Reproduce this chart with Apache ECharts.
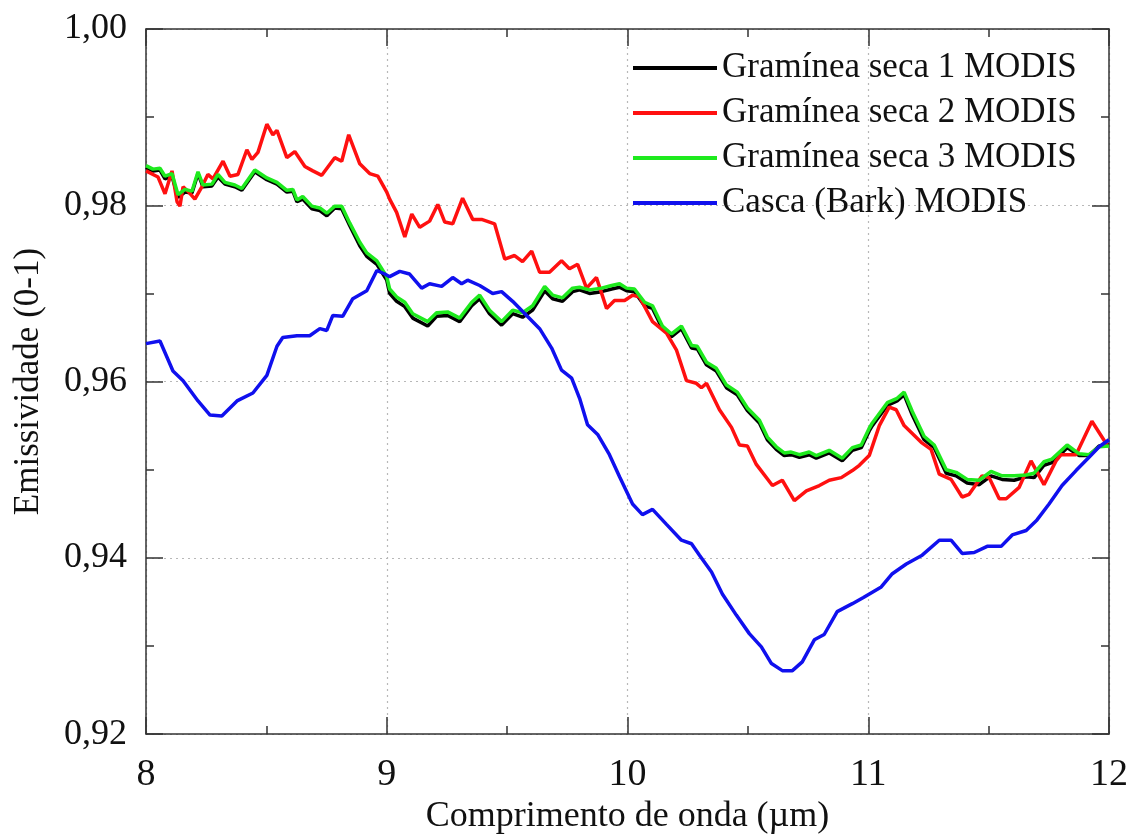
<!DOCTYPE html>
<html>
<head>
<meta charset="utf-8">
<script src="https://cdn.jsdelivr.net/npm/echarts@6/dist/echarts.min.js"></script>
<style>
html,body{margin:0;padding:0;background:#fff;width:1131px;height:840px;overflow:hidden;}
#chart{width:1131px;height:840px;}
</style>
</head>
<body>
<div id="chart"></div>
<script>
// ---- Data (wavelength in µm, emissivity) ----
const seriesNames = ['Gramínea seca 1 MODIS', 'Gramínea seca 2 MODIS', 'Gramínea seca 3 MODIS', 'Casca (Bark) MODIS'];
const seriesColors = ['#000000', '#ff1010', '#1eea1e', '#1010ee'];

const seca1 = [[8.00,0.9843],[8.029,0.9839],[8.058,0.9840],[8.079,0.9830],[8.108,0.9833],[8.133,0.9809],[8.162,0.9815],[8.191,0.9814],[8.216,0.9836],[8.237,0.9821],[8.274,0.9822],[8.299,0.9832],[8.328,0.9824],[8.369,0.9821],[8.398,0.9817],[8.452,0.9838],[8.502,0.9829],[8.544,0.9824],[8.585,0.9815],[8.610,0.9816],[8.627,0.9804],[8.651,0.9807],[8.689,0.9796],[8.722,0.9794],[8.751,0.9788],[8.784,0.9797],[8.813,0.9796],[8.846,0.9777],[8.888,0.9754],[8.917,0.9742],[8.959,0.9733],[9.000,0.9715],[9.012,0.9700],[9.041,0.9691],[9.075,0.9685],[9.108,0.9672],[9.170,0.9663],[9.207,0.9674],[9.253,0.9675],[9.303,0.9668],[9.353,0.9686],[9.386,0.9694],[9.427,0.9677],[9.477,0.9664],[9.523,0.9677],[9.564,0.9673],[9.606,0.9681],[9.656,0.9703],[9.689,0.9694],[9.730,0.9691],[9.772,0.9702],[9.801,0.9704],[9.842,0.9700],[9.892,0.9702],[9.934,0.9705],[9.967,0.9707],[9.996,0.9703],[10.029,0.9702],[10.071,0.9686],[10.104,0.9683],[10.145,0.9660],[10.183,0.9651],[10.224,0.9660],[10.266,0.9638],[10.290,0.9637],[10.328,0.9619],[10.369,0.9612],[10.411,0.9593],[10.456,0.9585],[10.498,0.9567],[10.548,0.9553],[10.581,0.9534],[10.618,0.9523],[10.651,0.9516],[10.680,0.9517],[10.714,0.9514],[10.755,0.9517],[10.784,0.9513],[10.838,0.9519],[10.892,0.9510],[10.934,0.9522],[10.971,0.9525],[11.004,0.9544],[11.017,0.9550],[11.079,0.9573],[11.120,0.9578],[11.149,0.9585],[11.183,0.9562],[11.232,0.9534],[11.274,0.9525],[11.324,0.9496],[11.365,0.9493],[11.411,0.9485],[11.461,0.9483],[11.510,0.9493],[11.556,0.9489],[11.606,0.9488],[11.656,0.9492],[11.689,0.9491],[11.730,0.9505],[11.763,0.9508],[11.826,0.9525],[11.876,0.9516],[11.917,0.9516],[11.959,0.9527],[12.00,0.9528]];

const seca2 = [[8.00,0.9839],[8.029,0.9835],[8.050,0.9832],[8.079,0.9813],[8.108,0.9839],[8.129,0.9804],[8.141,0.9799],[8.154,0.9821],[8.174,0.9816],[8.203,0.9807],[8.232,0.9821],[8.257,0.9835],[8.278,0.9830],[8.320,0.9850],[8.349,0.9833],[8.382,0.9835],[8.419,0.9863],[8.440,0.9852],[8.465,0.9860],[8.502,0.9892],[8.527,0.9880],[8.544,0.9885],[8.585,0.9854],[8.618,0.9861],[8.660,0.9844],[8.693,0.9839],[8.730,0.9834],[8.784,0.9854],[8.813,0.9850],[8.842,0.9880],[8.888,0.9847],[8.929,0.9836],[8.963,0.9833],[9.000,0.9815],[9.012,0.9807],[9.041,0.9792],[9.075,0.9764],[9.104,0.9790],[9.137,0.9775],[9.178,0.9782],[9.212,0.9801],[9.241,0.9781],[9.274,0.9779],[9.315,0.9808],[9.357,0.9784],[9.394,0.9784],[9.448,0.9779],[9.490,0.9739],[9.531,0.9743],[9.564,0.9736],[9.602,0.9748],[9.635,0.9724],[9.676,0.9724],[9.726,0.9737],[9.759,0.9728],[9.793,0.9733],[9.830,0.9706],[9.871,0.9718],[9.913,0.9683],[9.946,0.9692],[9.988,0.9692],[10.021,0.9698],[10.050,0.9696],[10.104,0.9668],[10.162,0.9655],[10.203,0.9636],[10.245,0.9601],[10.286,0.9598],[10.307,0.9593],[10.328,0.9598],[10.382,0.9568],[10.432,0.9548],[10.465,0.9528],[10.498,0.9527],[10.535,0.9506],[10.602,0.9482],[10.643,0.9488],[10.693,0.9465],[10.743,0.9476],[10.797,0.9482],[10.838,0.9488],[10.888,0.9491],[10.934,0.9499],[10.963,0.9505],[11.004,0.9516],[11.046,0.9550],[11.087,0.9571],[11.116,0.9568],[11.149,0.9550],[11.220,0.9531],[11.261,0.9523],[11.295,0.9495],[11.344,0.9489],[11.390,0.9469],[11.419,0.9472],[11.473,0.9493],[11.502,0.9491],[11.544,0.9467],[11.573,0.9467],[11.627,0.9480],[11.676,0.9510],[11.730,0.9483],[11.780,0.9510],[11.801,0.9517],[11.863,0.9517],[11.929,0.9555],[11.992,0.9528]];

const seca3 = [[8.00,0.9845],[8.029,0.9841],[8.058,0.9842],[8.079,0.9833],[8.108,0.9836],[8.133,0.9812],[8.162,0.9818],[8.191,0.9816],[8.216,0.9838],[8.237,0.9823],[8.274,0.9824],[8.299,0.9835],[8.328,0.9826],[8.369,0.9823],[8.398,0.9819],[8.452,0.9840],[8.502,0.9831],[8.544,0.9826],[8.585,0.9817],[8.610,0.9818],[8.627,0.9806],[8.651,0.9810],[8.689,0.9799],[8.722,0.9797],[8.751,0.9791],[8.784,0.9799],[8.813,0.9799],[8.846,0.9780],[8.888,0.9758],[8.917,0.9746],[8.959,0.9737],[9.000,0.9719],[9.012,0.9705],[9.041,0.9696],[9.075,0.9690],[9.108,0.9677],[9.170,0.9668],[9.207,0.9678],[9.253,0.9679],[9.303,0.9672],[9.353,0.9690],[9.386,0.9698],[9.427,0.9681],[9.477,0.9668],[9.523,0.9681],[9.564,0.9678],[9.606,0.9686],[9.656,0.9708],[9.689,0.9698],[9.730,0.9695],[9.772,0.9706],[9.801,0.9707],[9.842,0.9704],[9.892,0.9706],[9.934,0.9709],[9.967,0.9711],[9.996,0.9706],[10.029,0.9705],[10.071,0.9690],[10.104,0.9686],[10.145,0.9663],[10.183,0.9654],[10.224,0.9663],[10.266,0.9641],[10.290,0.9640],[10.328,0.9622],[10.369,0.9615],[10.411,0.9596],[10.456,0.9588],[10.498,0.9570],[10.548,0.9556],[10.581,0.9537],[10.618,0.9526],[10.651,0.9519],[10.680,0.9520],[10.714,0.9517],[10.755,0.9520],[10.784,0.9516],[10.838,0.9522],[10.892,0.9513],[10.934,0.9525],[10.971,0.9528],[11.004,0.9547],[11.017,0.9553],[11.079,0.9576],[11.120,0.9581],[11.149,0.9588],[11.183,0.9566],[11.232,0.9538],[11.274,0.9528],[11.324,0.9500],[11.365,0.9497],[11.411,0.9489],[11.461,0.9488],[11.510,0.9498],[11.556,0.9493],[11.606,0.9493],[11.656,0.9494],[11.689,0.9496],[11.730,0.9509],[11.763,0.9512],[11.826,0.9528],[11.876,0.9518],[11.917,0.9517],[11.959,0.9526],[12.00,0.9527]];

const casca = [[8.00,0.9643],[8.058,0.9646],[8.112,0.9612],[8.154,0.9601],[8.216,0.9578],[8.266,0.9562],[8.315,0.9561],[8.378,0.9578],[8.444,0.9587],[8.502,0.9607],[8.544,0.9640],[8.568,0.9650],[8.627,0.9652],[8.680,0.9652],[8.722,0.9660],[8.751,0.9658],[8.776,0.9675],[8.817,0.9674],[8.859,0.9694],[8.917,0.9703],[8.959,0.9726],[8.992,0.9722],[9.012,0.9719],[9.054,0.9725],[9.095,0.9722],[9.145,0.9706],[9.178,0.9711],[9.228,0.9708],[9.274,0.9718],[9.311,0.9711],[9.336,0.9715],[9.386,0.9709],[9.440,0.9700],[9.477,0.9702],[9.523,0.9691],[9.581,0.9675],[9.635,0.9660],[9.685,0.9638],[9.726,0.9613],[9.768,0.9604],[9.801,0.9581],[9.834,0.9551],[9.876,0.9540],[9.925,0.9517],[9.967,0.9492],[10.021,0.9461],[10.062,0.9449],[10.104,0.9455],[10.162,0.9438],[10.224,0.9420],[10.266,0.9416],[10.299,0.9403],[10.349,0.9384],[10.394,0.9359],[10.452,0.9335],[10.506,0.9314],[10.556,0.9299],[10.598,0.9280],[10.643,0.9272],[10.685,0.9272],[10.726,0.9282],[10.776,0.9307],[10.817,0.9313],[10.871,0.9339],[10.934,0.9348],[10.980,0.9355],[11.054,0.9367],[11.100,0.9382],[11.158,0.9393],[11.224,0.9403],[11.295,0.9420],[11.344,0.9420],[11.390,0.9405],[11.440,0.9406],[11.494,0.9413],[11.552,0.9413],[11.598,0.9426],[11.656,0.9431],[11.701,0.9443],[11.751,0.9461],[11.805,0.9482],[11.863,0.9499],[11.917,0.9514],[11.959,0.9526],[12.00,0.9534]];

const xTickValues = [8, 9, 10, 11, 12];
const xTickLabels = ['8', '9', '10', '11', '12'];
const yTickValues = [0.92, 0.94, 0.96, 0.98, 1.00];
const yTickLabels = ['0,92', '0,94', '0,96', '0,98', '1,00'];

const xName = 'Comprimento de onda (\u00b5m)';
const yName = 'Emissividade (0-1)';

// ---- Chart ----
const FONT = '"Liberation Serif", "DejaVu Serif", serif';
const chart = echarts.init(document.getElementById('chart'), null, { renderer: 'canvas', width: 1131, height: 840 });

function lookup(values, labels, v) {
  for (let i = 0; i < values.length; i++) {
    if (Math.abs(values[i] - v) < 1e-6) return labels[i];
  }
  return '';
}

const axisLineStyle = { color: '#333', width: 1.5 };
const gridLine = { show: true, lineStyle: { color: '#b8b8b8', type: [2, 4], width: 1.2 } };

const dataSets = [seca1, seca2, seca3, casca];
const zOrder = [2, 3, 4, 5];

const option = {
  backgroundColor: '#fff',
  animation: false,
  grid: { left: 146, right: 21, top: 29, bottom: 102, containLabel: false },
  legend: {
    orient: 'vertical',
    left: 628,
    top: 43,
    icon: 'rect',
    itemWidth: 84,
    itemHeight: 4,
    itemGap: 5,
    textStyle: { fontFamily: FONT, fontSize: 35, color: '#111', lineHeight: 40 },
    data: seriesNames
  },
  xAxis: [{
    type: 'value', min: 8, max: 12, interval: 1, position: 'bottom',
    name: xName, nameLocation: 'middle', nameGap: 62,
    nameTextStyle: { fontFamily: FONT, fontSize: 36, color: '#111' },
    axisLine: { show: true, lineStyle: axisLineStyle },
    axisTick: { show: true, inside: true, length: 17, lineStyle: axisLineStyle },
    minorTick: { show: true, splitNumber: 2, length: 8, lineStyle: axisLineStyle },
    axisLabel: { fontFamily: FONT, fontSize: 38, color: '#111', margin: 22,
      formatter: v => lookup(xTickValues, xTickLabels, v) },
    splitLine: gridLine
  }, {
    type: 'value', min: 8, max: 12, interval: 1, position: 'top',
    axisLine: { show: true, lineStyle: axisLineStyle },
    axisTick: { show: true, inside: true, length: 17, lineStyle: axisLineStyle },
    minorTick: { show: true, splitNumber: 2, length: 8, lineStyle: axisLineStyle },
    axisLabel: { show: false },
    splitLine: { show: false }
  }],
  yAxis: [{
    type: 'value', min: 0.92, max: 1.00, interval: 0.02, position: 'left',
    name: yName, nameLocation: 'middle', nameGap: 100, nameRotate: 90,
    nameTextStyle: { fontFamily: FONT, fontSize: 35, color: '#111' },
    axisLine: { show: true, lineStyle: axisLineStyle },
    axisTick: { show: true, inside: true, length: 17, lineStyle: axisLineStyle },
    minorTick: { show: true, splitNumber: 2, length: 8, lineStyle: axisLineStyle },
    axisLabel: { fontFamily: FONT, fontSize: 36, color: '#111', margin: 19,
      formatter: v => lookup(yTickValues, yTickLabels, v) },
    splitLine: gridLine
  }, {
    type: 'value', min: 0.92, max: 1.00, interval: 0.02, position: 'right',
    axisLine: { show: true, lineStyle: axisLineStyle },
    axisTick: { show: true, inside: true, length: 17, lineStyle: axisLineStyle },
    minorTick: { show: true, splitNumber: 2, length: 8, lineStyle: axisLineStyle },
    axisLabel: { show: false },
    splitLine: { show: false }
  }],
  series: dataSets.map((d, i) => ({
    name: seriesNames[i],
    type: 'line',
    xAxisIndex: 0,
    yAxisIndex: 0,
    data: d,
    showSymbol: false,
    symbol: 'none',
    z: zOrder[i],
    color: seriesColors[i],
    lineStyle: { color: seriesColors[i], width: 3.5 }
  }))
};

chart.setOption(option);
</script>
</body>
</html>
